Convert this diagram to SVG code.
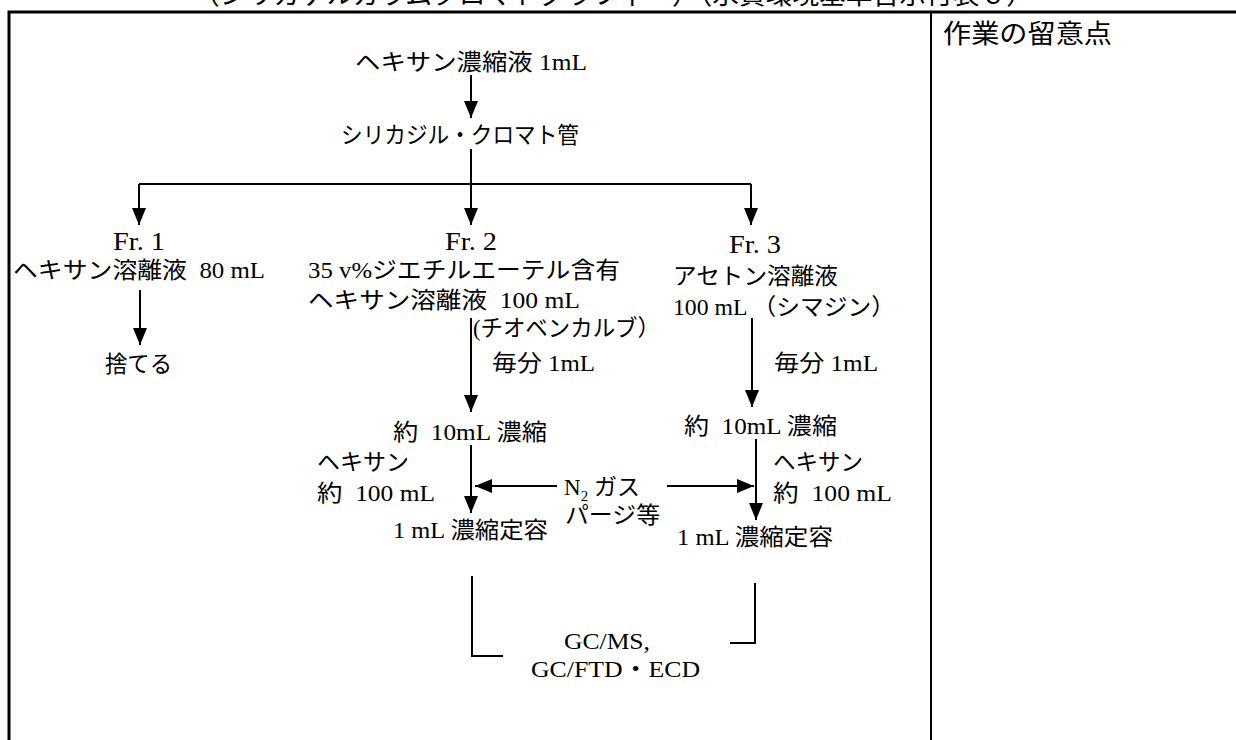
<svg xmlns="http://www.w3.org/2000/svg" width="1236" height="740" viewBox="0 0 1236 740">
<defs>
<marker id="ah" markerUnits="userSpaceOnUse" markerWidth="17" markerHeight="14" refX="17" refY="7" viewBox="0 0 17 14" orient="auto">
<path d="M0,0 L17,7 L0,14 Z" fill="#000"/>
</marker>
<style>
text{font-family:"Liberation Serif","Noto Sans CJK JP",serif;font-size:23px;fill:#000}
.g{font-family:"Noto Sans CJK JP","Liberation Sans",sans-serif;font-size:26px}
.fr{font-size:25px}
.ln{stroke:#000;stroke-width:2;fill:none}
.ar{stroke:#000;stroke-width:2;fill:none;marker-end:url(#ah)}
</style>
</defs>
<rect width="1236" height="740" fill="#fff"/>
<g id="frame">
<path class="ln" d="M9,740 V12 H1236" style="stroke-width:3"/>
<path class="ln" d="M931,12 V740"/>
<text x="193" y="4" style="font-size:26px" textLength="840" lengthAdjust="spacingAndGlyphs">（シリカゲルカラムクロマトグラフィー）（水質環境基準告示付表６）</text>
<text class="g" x="943" y="43" textLength="169" lengthAdjust="spacingAndGlyphs">作業の留意点</text>
</g>
<g id="connectors">
<path class="ar" d="M471,75 V118"/>
<path class="ar" d="M471,149 V225"/>
<path class="ln" d="M139,184 H751"/>
<path class="ar" d="M139,184 V225"/>
<path class="ar" d="M751,184 V225"/>
<path class="ar" d="M140,290 V345"/>
<path class="ar" d="M471,318 V412"/>
<path class="ar" d="M752,318 V407"/>
<path class="ar" d="M471,445 V513"/>
<path class="ar" d="M756,439 V520"/>
<path class="ar" d="M557,486 H475"/>
<path class="ar" d="M667,486 H754"/>
<path class="ln" d="M472,576 V656 H503"/>
<path class="ln" d="M755,583 V643 H730"/>
</g>
<g id="n-start"><text x="355" y="70" textLength="232" lengthAdjust="spacingAndGlyphs">ヘキサン濃縮液 1mL</text></g>
<g id="n-column"><text x="341" y="143" textLength="238" lengthAdjust="spacingAndGlyphs">シリカジル・クロマト管</text></g>
<g id="n-fr1">
<text class="fr" x="113" y="250" textLength="52" lengthAdjust="spacingAndGlyphs">Fr. 1</text>
<text x="13" y="278" textLength="252" lengthAdjust="spacingAndGlyphs" xml:space="preserve">ヘキサン溶離液  80 mL</text>
</g>
<g id="n-discard"><text x="105" y="372" textLength="67" lengthAdjust="spacingAndGlyphs">捨てる</text></g>
<g id="n-fr2">
<text class="fr" x="445" y="250" textLength="52" lengthAdjust="spacingAndGlyphs">Fr. 2</text>
<text x="308" y="278" textLength="312" lengthAdjust="spacingAndGlyphs">35 v%ジエチルエーテル含有</text>
<text x="308" y="308" textLength="272" lengthAdjust="spacingAndGlyphs" xml:space="preserve">ヘキサン溶離液  100 mL</text>
</g>
<g id="n-fr2-note">
<text x="473" y="336" textLength="187" lengthAdjust="spacingAndGlyphs">(チオベンカルブ）</text>
<text x="492" y="371" textLength="103" lengthAdjust="spacingAndGlyphs">毎分 1mL</text>
</g>
<g id="n-fr3">
<text class="fr" x="729" y="253" textLength="52" lengthAdjust="spacingAndGlyphs">Fr. 3</text>
<text x="673" y="284" textLength="165" lengthAdjust="spacingAndGlyphs">アセトン溶離液</text>
<text x="673" y="315" textLength="222" lengthAdjust="spacingAndGlyphs" xml:space="preserve">100 mL （シマジン）</text>
</g>
<g id="n-fr3-note"><text x="774" y="371" textLength="104" lengthAdjust="spacingAndGlyphs">毎分 1mL</text></g>
<g id="n-conc2"><text x="393" y="440" textLength="154" lengthAdjust="spacingAndGlyphs" xml:space="preserve">約  10mL 濃縮</text></g>
<g id="n-conc3"><text x="684" y="434" textLength="153" lengthAdjust="spacingAndGlyphs" xml:space="preserve">約  10mL 濃縮</text></g>
<g id="n-hex2">
<text x="317" y="470" textLength="92" lengthAdjust="spacingAndGlyphs">ヘキサン</text>
<text x="317" y="501" textLength="118" lengthAdjust="spacingAndGlyphs" xml:space="preserve">約  100 mL</text>
</g>
<g id="n-hex3">
<text x="773" y="470" textLength="90" lengthAdjust="spacingAndGlyphs">ヘキサン</text>
<text x="773" y="501" textLength="119" lengthAdjust="spacingAndGlyphs" xml:space="preserve">約  100 mL</text>
</g>
<g id="n-n2">
<text x="564" y="495">N<tspan dy="6" style="font-size:15px">2</tspan><tspan dy="-6"> ガス</tspan></text>
<text x="565" y="523" textLength="95" lengthAdjust="spacingAndGlyphs">パージ等</text>
</g>
<g id="n-final2"><text x="393" y="538" textLength="155" lengthAdjust="spacingAndGlyphs">1 mL 濃縮定容</text></g>
<g id="n-final3"><text x="677" y="545" textLength="156" lengthAdjust="spacingAndGlyphs">1 mL 濃縮定容</text></g>
<g id="n-gc">
<text x="564" y="649" textLength="86" lengthAdjust="spacingAndGlyphs">GC/MS,</text>
<text x="531" y="677" textLength="169" lengthAdjust="spacingAndGlyphs">GC/FTD・ECD</text>
</g>
</svg>
